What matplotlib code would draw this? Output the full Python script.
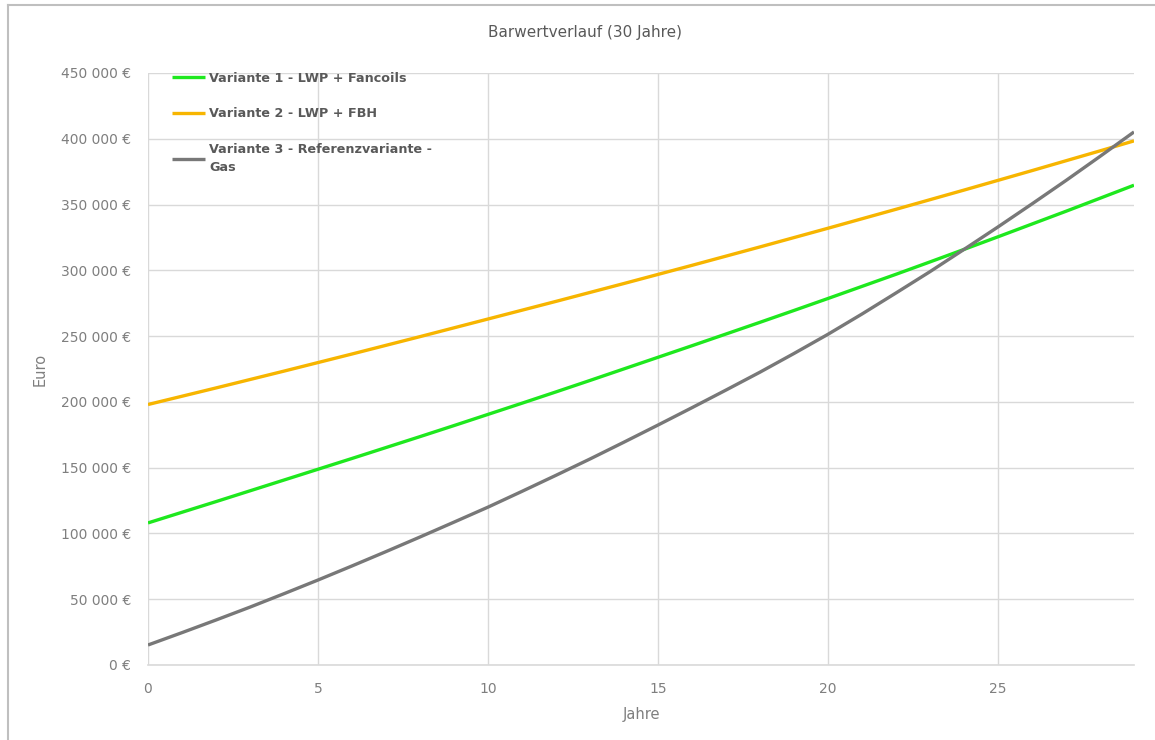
import matplotlib
matplotlib.use("Agg")
import matplotlib.pyplot as plt
from matplotlib.ticker import FuncFormatter, MultipleLocator
from matplotlib.lines import Line2D

years = list(range(30))

variante1 = [108.0, 116.1, 124.2, 132.4, 140.6, 148.8, 157.0, 165.3, 173.6, 182.0,
             190.5, 199.0, 207.6, 216.3, 225.1, 233.9, 242.7, 251.6, 260.5, 269.5,
             278.6, 287.8, 297.0, 306.4, 315.9, 325.5, 335.2, 344.9, 354.8, 364.7]
variante2 = [198.0, 204.3, 210.6, 217.0, 223.4, 229.9, 236.4, 243.0, 249.6, 256.3,
             263.0, 269.7, 276.4, 283.2, 290.0, 296.9, 303.8, 310.8, 317.8, 324.9,
             332.0, 339.2, 346.4, 353.7, 361.0, 368.4, 375.8, 383.3, 390.8, 398.4]
variante3 = [15.2, 24.6, 34.2, 44.0, 54.2, 64.6, 75.3, 86.2, 97.3, 108.6,
             120.0, 132.0, 144.2, 156.6, 169.4, 182.4, 195.6, 209.0, 222.6, 236.8,
             251.4, 266.8, 282.8, 299.0, 315.9, 333.0, 350.5, 368.3, 386.6, 405.2]

labels = ["Variante 1 - LWP + Fancoils",
          "Variante 2 - LWP + FBH",
          "Variante 3 - Referenzvariante -\nGas"]
colors = ["#1ee81e", "#f7b500", "#787878"]

title = "Barwertverlauf (30 Jahre)"
xlabel = "Jahre"
ylabel = "Euro"

fig = plt.figure(figsize=(11.55, 7.4), dpi=100)
ax = fig.add_axes([148/1155, 1-665/740, (1134-148)/1155, (665-73)/740])

for vals, lab, col in zip([variante1, variante2, variante3], labels, colors):
    ax.plot(years, [v * 1000 for v in vals], color=col, lw=2.4, label=lab,
            solid_capstyle="butt")

ax.set_xlim(0, 29)
ax.set_ylim(0, 450000)
ax.xaxis.set_major_locator(MultipleLocator(5))
ax.yaxis.set_major_locator(MultipleLocator(50000))

def fmt(v, pos):
    v = int(round(v))
    if v == 0:
        return "0 €"
    return f"{v // 1000} {v % 1000:03d} €"

ax.yaxis.set_major_formatter(FuncFormatter(fmt))
ax.grid(True, color="#d9d9d9", lw=1.0)
ax.set_axisbelow(True)
for s in ["top", "right", "left"]:
    ax.spines[s].set_visible(False)
ax.spines["bottom"].set_color("#d9d9d9")
ax.spines["bottom"].set_linewidth(1.2)
ax.tick_params(axis="both", length=0, colors="#7f7f7f", labelsize=10)
ax.tick_params(axis="y", pad=12)
ax.tick_params(axis="x", pad=12)

ax.set_xlabel(xlabel, color="#7f7f7f", fontsize=10.5, labelpad=8)
ax.set_ylabel(ylabel, color="#7f7f7f", fontsize=10.5, labelpad=10)

fig.text(585/1155, 1-32/740, title, ha="center", va="center",
         color="#595959", fontsize=11)

leg = ax.legend(loc="upper left", bbox_to_anchor=(0.024, 1.002), frameon=False,
                handlelength=2.6, handletextpad=0.35, labelspacing=1.75,
                borderpad=0, borderaxespad=0,
                prop={"weight": "bold", "size": 9.2})
for t in leg.get_texts():
    t.set_color("#595959")
    t.set_linespacing(1.5)

# outer frame (top and left)
fig.add_artist(Line2D([8/1155, 8/1155], [0, 1-5/740], transform=fig.transFigure,
                      color="#bfbfbf", lw=1.5))
fig.add_artist(Line2D([8/1155, 1], [1-5/740, 1-5/740], transform=fig.transFigure,
                      color="#bfbfbf", lw=1.5))

fig.savefig("out.png", dpi=100, facecolor="white")
